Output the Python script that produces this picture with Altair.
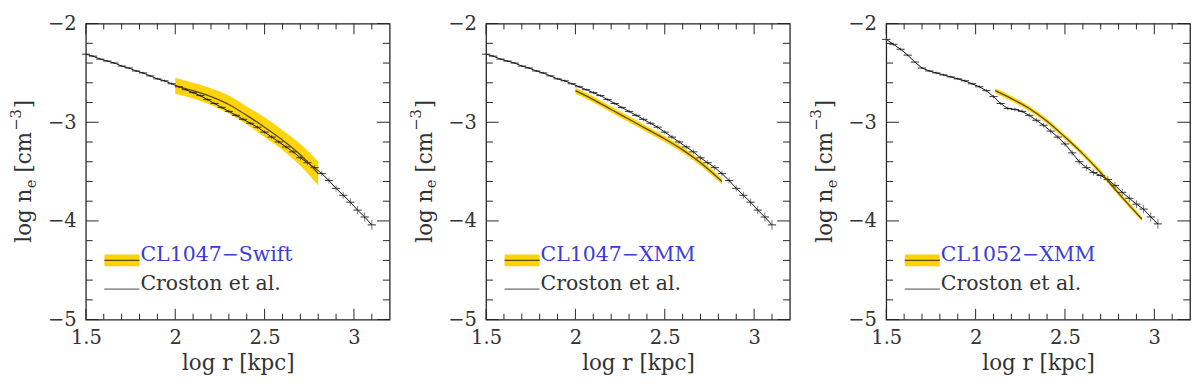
import altair as alt
import pandas as pd

# ---------------- data ----------------
# Croston et al. profile for CL1047 (panels 1 and 2)
r_1047 = [1.50, 1.54, 1.58, 1.62, 1.66, 1.70, 1.74, 1.78, 1.82, 1.86, 1.90, 1.94,
          1.98, 2.02, 2.06, 2.10, 2.14, 2.18, 2.22, 2.26, 2.30, 2.34, 2.38, 2.42,
          2.46, 2.50, 2.54, 2.58, 2.62, 2.66, 2.70, 2.74, 2.78, 2.82, 2.86, 2.90,
          2.94, 2.98, 3.02, 3.06, 3.10]
ne_1047 = [-2.31, -2.33, -2.36, -2.38, -2.40, -2.43, -2.45, -2.48, -2.50, -2.53, -2.56, -2.58,
           -2.61, -2.64, -2.67, -2.70, -2.73, -2.77, -2.81, -2.85, -2.89, -2.93, -2.97, -3.01,
           -3.05, -3.10, -3.15, -3.20, -3.25, -3.30, -3.36, -3.41, -3.46, -3.52, -3.59, -3.67,
           -3.74, -3.81, -3.89, -3.96, -4.04]
err_1047 = [0.010, 0.010, 0.010, 0.010, 0.010, 0.011, 0.011, 0.011, 0.012, 0.012, 0.012, 0.013,
            0.013, 0.014, 0.014, 0.015, 0.015, 0.016, 0.016, 0.017, 0.018, 0.018, 0.019, 0.020,
            0.020, 0.021, 0.022, 0.022, 0.023, 0.024, 0.025, 0.026, 0.027, 0.028, 0.030, 0.032,
            0.035, 0.038, 0.042, 0.046, 0.050]

# Croston et al. profile for CL1052 (panel 3)
r_1052 = [1.50, 1.54, 1.58, 1.62, 1.66, 1.70, 1.74, 1.78, 1.82, 1.86, 1.90, 1.94,
          1.98, 2.02, 2.06, 2.10, 2.14, 2.18, 2.22, 2.26, 2.30, 2.34, 2.38, 2.42,
          2.46, 2.50, 2.54, 2.58, 2.62, 2.66, 2.70, 2.74, 2.78, 2.82, 2.86, 2.90,
          2.94, 2.98, 3.02]
ne_1052 = [-2.16, -2.21, -2.26, -2.32, -2.39, -2.45, -2.48, -2.50, -2.52, -2.54, -2.56, -2.58,
           -2.61, -2.64, -2.68, -2.74, -2.81, -2.86, -2.87, -2.89, -2.93, -2.98, -3.03, -3.09,
           -3.15, -3.22, -3.31, -3.40, -3.46, -3.51, -3.54, -3.58, -3.64, -3.71, -3.77, -3.83,
           -3.88, -3.96, -4.03]
err_1052 = [0.015, 0.015, 0.014, 0.013, 0.012, 0.012, 0.012, 0.012, 0.012, 0.013, 0.013, 0.014,
            0.014, 0.015, 0.016, 0.017, 0.018, 0.019, 0.020, 0.021, 0.022, 0.023, 0.024, 0.025,
            0.026, 0.027, 0.028, 0.029, 0.030, 0.031, 0.032, 0.033, 0.034, 0.036, 0.038, 0.040,
            0.043, 0.046, 0.050]

bin_half = 0.023  # half width of the radial bins (log r)

# CL1047 - Swift band
swift_r = [2.0, 2.1, 2.2, 2.3, 2.4, 2.5, 2.6, 2.7, 2.8]
swift_mid = [-2.63, -2.68, -2.74, -2.82, -2.93, -3.05, -3.18, -3.33, -3.52]
swift_hi = [-2.55, -2.60, -2.655, -2.73, -2.84, -2.95, -3.08, -3.22, -3.40]
swift_lo = [-2.71, -2.76, -2.825, -2.91, -3.02, -3.15, -3.28, -3.44, -3.64]

# CL1047 - XMM band
x1047_r = [2.0, 2.1, 2.2, 2.3, 2.4, 2.5, 2.6, 2.7, 2.82]
x1047_mid = [-2.68, -2.77, -2.87, -2.97, -3.07, -3.17, -3.28, -3.41, -3.60]
x1047_hi = [-2.65, -2.74, -2.84, -2.94, -3.04, -3.14, -3.25, -3.38, -3.57]
x1047_lo = [-2.71, -2.80, -2.90, -3.00, -3.10, -3.20, -3.31, -3.44, -3.63]

# CL1052 - XMM band
x1052_r = [2.11, 2.2, 2.3, 2.4, 2.5, 2.6, 2.7, 2.8, 2.93]
x1052_mid = [-2.68, -2.76, -2.86, -2.99, -3.15, -3.32, -3.51, -3.72, -3.98]
x1052_hi = [-2.655, -2.735, -2.835, -2.965, -3.125, -3.295, -3.485, -3.695, -3.955]
x1052_lo = [-2.705, -2.785, -2.885, -3.015, -3.175, -3.345, -3.535, -3.745, -4.005]

# axis ticks
x_major = [1.5, 2.0, 2.5, 3.0]
x_minor = [1.6, 1.7, 1.8, 1.9, 2.1, 2.2, 2.3, 2.4, 2.6, 2.7, 2.8, 2.9, 3.1]
y_major = [-2, -3, -4, -5]
y_minor = [-2.2, -2.4, -2.6, -2.8, -3.2, -3.4, -3.6, -3.8, -4.2, -4.4, -4.6, -4.8]

labels = ["CL1047\u2212Swift", "CL1047\u2212XMM", "CL1052\u2212XMM"]
croston_label = "Croston et al."

# ---------------- styling ----------------
W, H = 312, 304
FRAME = "#222222"
TXT = "#333333"
GOLD = "#FFD200"
MIDLINE = "#5c4a00"
BLUE = "#3b3bd8"
SERIF = "DejaVu Serif"

xs = alt.Scale(domain=[1.5, 3.2], nice=False, zero=False)
ys = alt.Scale(domain=[-5, -2], nice=False, zero=False)
xax = alt.Axis(title="log r [kpc]", values=x_major, format="~g", labelFlush=False)
yax = alt.Axis(title=None, values=y_major, format="~g", labelFlush=False)


def X(f):
    return alt.X(f, type="quantitative", scale=xs, axis=xax)


def Y(f):
    return alt.Y(f, type="quantitative", scale=ys, axis=yax)


def one(t=""):
    return pd.DataFrame({"t": [t]})


def panel(pr, pn, pe, br, bm, blo, bhi, label):
    prof = pd.DataFrame({"x": pr, "y": pn})
    prof["xl"] = [v - bin_half for v in pr]
    prof["xh"] = [v + bin_half for v in pr]
    prof["yl"] = [a - b for a, b in zip(pn, pe)]
    prof["yh"] = [a + b for a, b in zip(pn, pe)]
    band = pd.DataFrame({"x": br, "y": bm, "lo": blo, "hi": bhi})

    layers = []
    layers.append(alt.Chart(band).mark_area(color=GOLD, opacity=0.95, interpolate="monotone").encode(
        x=X("x"), y=Y("lo"), y2=alt.Y2("hi")))
    layers.append(alt.Chart(prof).mark_rule(color="#777777", strokeWidth=1).encode(
        x=X("x"), y=Y("yl"), y2=alt.Y2("yh")))
    layers.append(alt.Chart(prof).mark_rule(color="#333333", strokeWidth=1).encode(
        x=X("xl"), x2=alt.X2("xh"), y=Y("y")))
    layers.append(alt.Chart(prof).mark_line(color="#111111", strokeWidth=1).encode(
        x=X("x"), y=Y("y")))
    layers.append(alt.Chart(band).mark_line(color=MIDLINE, strokeWidth=1.3, interpolate="monotone").encode(
        x=X("x"), y=Y("y")))

    # inward ticks on all four sides
    xm = pd.DataFrame({"x": x_major})
    xn = pd.DataFrame({"x": x_minor})
    ym = pd.DataFrame({"y": y_major})
    yn = pd.DataFrame({"y": y_minor})
    for df, L in ((xm, 11), (xn, 6)):
        layers.append(alt.Chart(df).mark_rule(color=FRAME, strokeWidth=1).encode(
            x=X("x"), y=alt.value(H), y2=alt.value(H - L)))
        layers.append(alt.Chart(df).mark_rule(color=FRAME, strokeWidth=1).encode(
            x=X("x"), y=alt.value(0), y2=alt.value(L)))
    for df, L in ((ym, 13), (yn, 7)):
        layers.append(alt.Chart(df).mark_rule(color=FRAME, strokeWidth=1).encode(
            y=Y("y"), x=alt.value(0), x2=alt.value(L)))
        layers.append(alt.Chart(df).mark_rule(color=FRAME, strokeWidth=1).encode(
            y=Y("y"), x=alt.value(W), x2=alt.value(W - L)))

    # legend
    ly1 = H * 0.800
    ly2 = H * 0.897
    layers.append(alt.Chart(one()).mark_rect(color=GOLD).encode(
        x=alt.value(19), x2=alt.value(55), y=alt.value(ly1 - 6), y2=alt.value(ly1 + 6)))
    layers.append(alt.Chart(one()).mark_rule(color=MIDLINE, strokeWidth=1.5).encode(
        x=alt.value(19), x2=alt.value(55), y=alt.value(ly1)))
    layers.append(alt.Chart(one()).mark_rule(color="#444444", strokeWidth=1).encode(
        x=alt.value(19), x2=alt.value(55), y=alt.value(ly2)))
    layers.append(alt.Chart(one(label)).mark_text(
        font=SERIF, fontSize=21, color=BLUE, align="left", baseline="middle").encode(
        text="t:N", x=alt.value(56), y=alt.value(H * 0.781)))
    layers.append(alt.Chart(one(croston_label)).mark_text(
        font=SERIF, fontSize=21, color=TXT, align="left", baseline="middle").encode(
        text="t:N", x=alt.value(56), y=alt.value(H * 0.881)))

    # y-axis title: log n_e [cm^-3]
    cx = -63
    y0 = H / 2 + 73
    pieces = [
        ("log n", 22, 0, y0),
        ("e", 15, 7, y0 - 56),
        ("[cm", 22, 0, y0 - 72),
        ("\u22123", 15, -9, y0 - 115),
        ("]", 22, 0, y0 - 138),
    ]
    for txt, fs, dx, yy in pieces:
        layers.append(alt.Chart(one(txt)).mark_text(
            font=SERIF, fontSize=fs, color=TXT, angle=270, align="left",
            baseline="middle").encode(text="t:N", x=alt.value(cx + dx), y=alt.value(yy)))

    return alt.layer(*layers).properties(width=W, height=H)


p1 = panel(r_1047, ne_1047, err_1047, swift_r, swift_mid, swift_lo, swift_hi, labels[0])
p2 = panel(r_1047, ne_1047, err_1047, x1047_r, x1047_mid, x1047_lo, x1047_hi, labels[1])
p3 = panel(r_1052, ne_1052, err_1052, x1052_r, x1052_mid, x1052_lo, x1052_hi, labels[2])

chart = alt.hconcat(p1, p2, p3, spacing=17).properties(
    padding={"left": 0, "top": 0, "right": 0, "bottom": 0}
).configure_view(
    stroke=FRAME, strokeWidth=1.3
).configure_axis(
    domain=False, ticks=False, tickSize=0, grid=False,
    labelFont=SERIF, labelFontSize=20, labelColor=TXT,
    titleFont=SERIF, titleFontSize=22, titleFontWeight="normal", titleColor=TXT,
).configure_axisX(
    labelPadding=9, titlePadding=5
).configure_axisY(
    labelPadding=10
)

chart.save("out.html", embed_options={"renderer": "svg", "actions": False})
